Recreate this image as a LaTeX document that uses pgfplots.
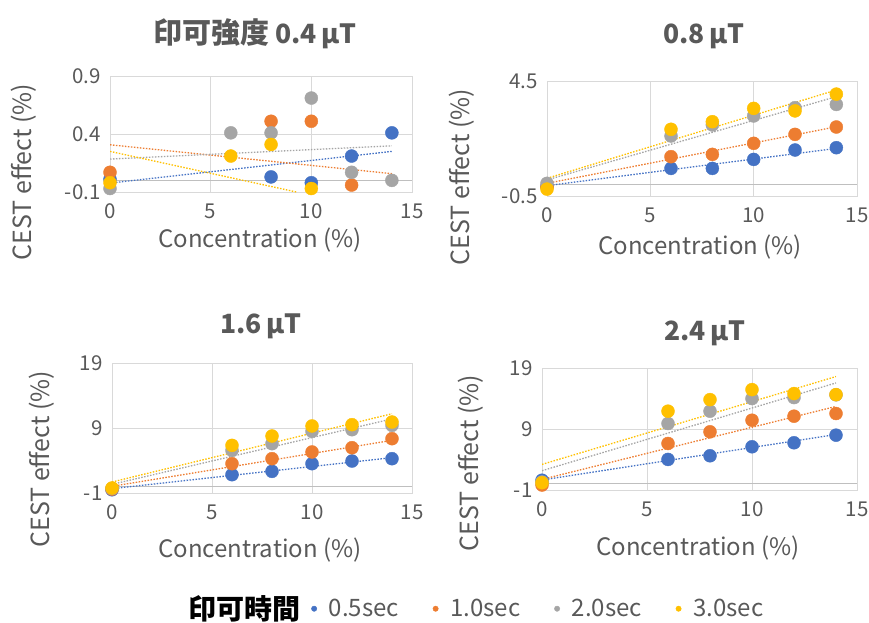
\documentclass[border=0pt]{standalone}
\usepackage{fontspec}
\setmainfont{Noto Sans CJK JP}
\usepackage{pgfplots}
\pgfplotsset{compat=1.18}
\definecolor{cb}{HTML}{4472C4}
\definecolor{co}{HTML}{ED7D31}
\definecolor{cg}{HTML}{A5A5A5}
\definecolor{cy}{HTML}{FFC000}
\definecolor{cgrid}{HTML}{D9D9D9}
\definecolor{caxis}{HTML}{BFBFBF}
\definecolor{ctext}{HTML}{595959}
\pgfplotsset{
  panel/.style={
    scale only axis, xmin=0, xmax=15, xtick={0,5,10,15}, xticklabels={0,5,10,15},
    grid=major, major grid style={draw=cgrid, line width=0.9pt},
    axis line style={draw=cgrid, line width=0.9pt},
    major tick length=0pt,
    ticklabel style={font=\fontsize{20.5}{24}\selectfont, text=ctext},
    xticklabel style={yshift=-8pt},
    yticklabel style={xshift=-6pt},
    xlabel style={font=\fontsize{24}{28}\selectfont, text=ctext},
    ylabel style={font=\fontsize{25}{28}\selectfont, text=ctext},
    title style={font=\fontsize{26.5}{30}\selectfont\bfseries, text=ctext, anchor=center, yshift=-7pt},
    extra y ticks={0}, extra y tick labels={},
    extra y tick style={grid=major, major grid style={draw=caxis, line width=0.9pt}},
    clip marker paths=false,
  },
  pt/.style={only marks, mark=*, mark size=6.5pt, color=#1},
  tl/.style={dash pattern=on 1.5pt off 1.5pt, line width=1.3pt, forget plot, color=#1},
}
\begin{document}
\begin{tikzpicture}
\useasboundingbox (0,0) rectangle (869pt,622pt);
% ---------------- Panel 1 ----------------
\begin{axis}[panel, at={(110pt,430pt)}, anchor=south west, width=302pt, height=116pt,
  ymin=-0.1, ymax=0.9, ytick={-0.1,0.4,0.9}, yticklabels={-0.1,0.4,0.9},
  title={{\fontsize{29}{30}\selectfont 印可強度}\hspace{6pt}0.4\,μT}, title style={at={(axis description cs:0.48,1.371)}},
  xlabel={Concentration (\%)}, xlabel style={at={(axis description cs:0.497,-0.414)}, anchor=center},
  ylabel={CEST effect (\%)}, ylabel style={at={(axis description cs:-0.285,0.172)}, anchor=center}]
\addplot[tl=cb] coordinates {(0,-0.023) (14,0.25)};
\addplot[tl=co] coordinates {(0,0.307) (14,0.058)};
\addplot[tl=cg] coordinates {(0,0.184) (14,0.298)};
\addplot[tl=cy] coordinates {(0,0.25) (9.26,-0.1)};
\addplot[pt=cb] coordinates {(0,0.01) (8,0.03) (10,-0.02) (12,0.21) (14,0.41)};
\addplot[pt=co] coordinates {(0,0.07) (8,0.51) (10,0.51) (12,-0.04)};
\addplot[pt=cg] coordinates {(0,-0.07) (6,0.41) (8,0.41) (10,0.71) (12,0.07) (14,0.0)};
\addplot[pt=cy] coordinates {(0,-0.02) (6,0.21) (8,0.31) (10,-0.07)};
\end{axis}
% ---------------- Panel 2 ----------------
\begin{axis}[panel, at={(547pt,426pt)}, anchor=south west, width=310pt, height=115pt,
  ymin=-0.5, ymax=4.5, ytick={-0.5,4.5}, yticklabels={-0.5,4.5},
  title={0.8\,μT}, title style={at={(axis description cs:0.506,1.40)}},
  xlabel={Concentration (\%)}, xlabel style={at={(axis description cs:0.494,-0.443)}, anchor=center},
  ylabel={CEST effect (\%)}, ylabel style={at={(axis description cs:-0.274,0.165)}, anchor=center}]
\addplot[tl=cb] coordinates {(0,-0.05) (14,1.57)};
\addplot[tl=co] coordinates {(0,0.05) (14,2.51)};
\addplot[tl=cg] coordinates {(0,0.20) (14,3.82)};
\addplot[tl=cy] coordinates {(0,0.27) (14,4.11)};
\addplot[pt=cb] coordinates {(0,-0.09) (6,0.70) (8,0.70) (10,1.09) (12,1.50) (14,1.60)};
\addplot[pt=co] coordinates {(0,-0.10) (6,1.21) (8,1.31) (10,1.79) (12,2.18) (14,2.50)};
\addplot[pt=cg] coordinates {(0,0.05) (6,2.11) (8,2.59) (10,2.98) (12,3.34) (14,3.48)};
\addplot[pt=cy] coordinates {(0,-0.20) (6,2.40) (8,2.73) (10,3.31) (12,3.20) (14,3.93)};
\end{axis}
% ---------------- Panel 3 ----------------
\begin{axis}[panel, at={(112pt,129pt)}, anchor=south west, width=300pt, height=130pt,
  ymin=-1, ymax=19, ytick={-1,9,19}, yticklabels={-1,9,19},
  title={1.6\,μT}, title style={at={(axis description cs:0.497,1.292)}},
  xlabel={Concentration (\%)}, xlabel style={at={(axis description cs:0.493,-0.438)}, anchor=center},
  ylabel={CEST effect (\%)}, ylabel style={at={(axis description cs:-0.233,0.26)}, anchor=center},
  legend columns=5,
  legend style={at={(axis description cs:1.213,-0.89)}, anchor=center, draw=none, fill=none,
    font=\fontsize{24}{28}\selectfont, text=ctext,
    /tikz/every even column/.append style={column sep=32pt}},
  legend image code/.code={\draw[#1, mark size=2.7pt] plot coordinates {(0pt,0pt)};}]
\addlegendimage{empty legend}
\addlegendentry{\makebox[89pt][l]{\textcolor{black}{\fontsize{28}{30}\selectfont\bfseries 印可時間}}}
\addplot[tl=cb] coordinates {(0,-0.33) (14,4.44)};
\addplot[tl=co] coordinates {(0,0.03) (14,7.1)};
\addplot[tl=cg] coordinates {(0,0.33) (14,10.4)};
\addplot[tl=cy] coordinates {(0,0.69) (14,11.2)};
\addplot[pt=cb] coordinates {(0,-0.5) (6,1.82) (8,2.33) (10,3.51) (12,3.92) (14,4.28)};
\addlegendentry{\hspace{10pt}0.5sec}
\addplot[pt=co] coordinates {(0,-0.4) (6,3.51) (8,4.28) (10,5.31) (12,5.97) (14,7.36)};
\addlegendentry{\hspace{10pt}1.0sec}
\addplot[pt=cg] coordinates {(0,-0.3) (6,5.56) (8,6.59) (10,8.49) (12,8.74) (14,9.41)};
\addlegendentry{\hspace{10pt}2.0sec}
\addplot[pt=cy] coordinates {(0,-0.23) (6,6.33) (8,7.77) (10,9.31) (12,9.51) (14,9.92)};
\addlegendentry{\hspace{10pt}3.0sec}
\end{axis}
% ---------------- Panel 4 ----------------
\begin{axis}[panel, at={(542pt,132pt)}, anchor=south west, width=315pt, height=122pt,
  ymin=-1, ymax=19, ytick={-1,9,19}, yticklabels={-1,9,19},
  title={2.4\,μT}, title style={at={(axis description cs:0.517,1.295)}},
  xlabel={Concentration (\%)}, xlabel style={at={(axis description cs:0.495,-0.475)}, anchor=center},
  ylabel={CEST effect (\%)}, ylabel style={at={(axis description cs:-0.225,0.22)}, anchor=center}]
\addplot[tl=cb] coordinates {(0,0.64) (14,8.1)};
\addplot[tl=co] coordinates {(0,0.74) (14,12.7)};
\addplot[tl=cg] coordinates {(0,2.16) (14,16.55)};
\addplot[tl=cy] coordinates {(0,3.2) (14,17.6)};
\addplot[pt=cb] coordinates {(0,0.6) (6,4.01) (8,4.61) (10,6.09) (12,6.74) (14,7.99)};
\addplot[pt=co] coordinates {(0,-0.18) (6,6.63) (8,8.54) (10,10.44) (12,11.10) (14,11.54)};
\addplot[pt=cg] coordinates {(0,0.3) (6,9.9) (8,11.92) (10,13.99) (12,14.15) (14,14.6)};
\addplot[pt=cy] coordinates {(0,0.2) (6,11.92) (8,13.82) (10,15.46) (12,14.81) (14,14.64)};
\end{axis}
\end{tikzpicture}
\end{document}
